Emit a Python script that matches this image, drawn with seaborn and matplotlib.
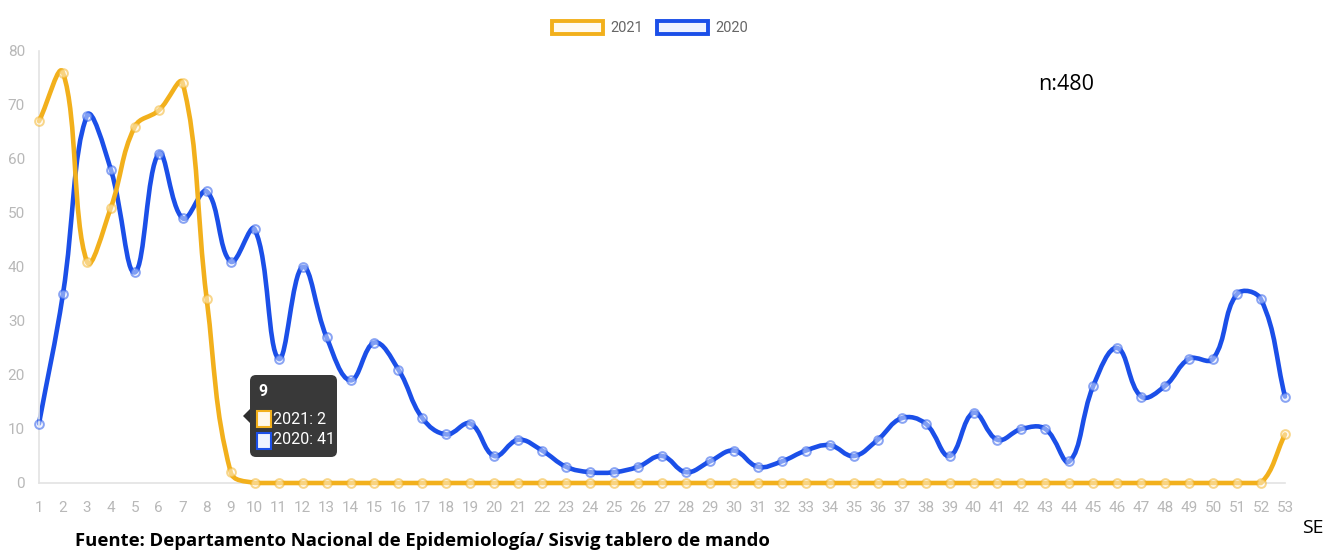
import numpy as np
import pandas as pd
import matplotlib
matplotlib.use('Agg')
import matplotlib.pyplot as plt
import seaborn as sns
from matplotlib.path import Path
from matplotlib.patches import PathPatch, FancyBboxPatch, Patch, Rectangle, Polygon
from matplotlib.transforms import IdentityTransform

# Datos (casos por semana epidemiológica)
semanas = list(range(1, 54))
casos_2021 = [67, 76, 41, 51, 66, 69, 74, 34, 2, 0,
              0, 0, 0, 0, 0, 0, 0, 0, 0, 0,
              0, 0, 0, 0, 0, 0, 0, 0, 0, 0,
              0, 0, 0, 0, 0, 0, 0, 0, 0, 0,
              0, 0, 0, 0, 0, 0, 0, 0, 0, 0,
              0, 0, 9]
casos_2020 = [11, 35, 68, 58, 39, 61, 49, 54, 41, 47,
              23, 40, 27, 19, 26, 21, 12, 9, 11, 5,
              8, 6, 3, 2, 2, 3, 5, 2, 4, 6,
              3, 4, 6, 7, 5, 8, 12, 11, 5, 13,
              8, 10, 10, 4, 18, 25, 16, 18, 23, 23,
              35, 34, 16]
y_ticks = [0, 10, 20, 30, 40, 50, 60, 70, 80]

NARANJA = '#F2B01C'
AZUL = '#1B4FE8'
GRIS = '#b8b8b8'
W, H = 1330, 552

sns.set_style('white')
plt.rcParams['font.family'] = ['Roboto', 'DejaVu Sans']

fig = plt.figure(figsize=(W / 100, H / 100), dpi=100)
ax = fig.add_axes([39 / W, (H - 483) / H, (1285 - 39) / W, 432 / H])
ax.set_xlim(1, 53)
ax.set_ylim(0, 80)


def curva_suave(ax, xs, ys, t=0.4):
    # curva tipo Chart.js (tension 0.4), calculada en pixeles
    pts = ax.transData.transform(np.column_stack([xs, ys]).astype(float))
    n = len(pts)
    cp_prev = np.zeros_like(pts)
    cp_next = np.zeros_like(pts)
    for i in range(n):
        prev = pts[i - 1] if i > 0 else pts[i]
        cur = pts[i]
        nxt = pts[i + 1] if i < n - 1 else pts[i]
        d01 = np.hypot(*(cur - prev))
        d12 = np.hypot(*(nxt - cur))
        tot = d01 + d12
        s01 = d01 / tot if tot else 0
        s12 = d12 / tot if tot else 0
        cp_prev[i] = cur - t * s01 * (nxt - prev)
        cp_next[i] = cur + t * s12 * (nxt - prev)
    y_lo = ax.transData.transform((1, 0))[1]
    y_hi = ax.transData.transform((1, 80))[1]
    cp_prev[:, 1] = np.clip(cp_prev[:, 1], y_lo, y_hi)
    cp_next[:, 1] = np.clip(cp_next[:, 1], y_lo, y_hi)
    verts = [pts[0]]
    codes = [Path.MOVETO]
    for i in range(n - 1):
        verts += [cp_next[i], cp_prev[i + 1], pts[i + 1]]
        codes += [Path.CURVE4] * 3
    verts = ax.transData.inverted().transform(np.array(verts))
    return Path(verts, codes)


series = [('2020', casos_2020, AZUL, (0.90, 0.93, 1.0, 0.5), 2),
          ('2021', casos_2021, NARANJA, (1.0, 0.97, 0.90, 0.5), 4)]
for anio, valores, color, claro, z in series:
    ax.add_patch(PathPatch(curva_suave(ax, semanas, valores), facecolor='none',
                           edgecolor=color, lw=3.3, capstyle='round',
                           joinstyle='round', clip_on=False, zorder=z))
    df = pd.DataFrame({'semana': semanas, 'casos': valores})
    sns.scatterplot(data=df, x='semana', y='casos', ax=ax, s=40, marker='o',
                    color=color, zorder=z + 1, clip_on=False, legend=False)
    coll = ax.collections[-1]
    coll.set_facecolor(claro)
    coll.set_edgecolor(matplotlib.colors.to_rgba(color, 0.5))
    coll.set_linewidth(1.4)

ax.set_xticks(semanas)
ax.set_xticklabels([str(s) for s in semanas])
ax.set_yticks(y_ticks)
ax.set_xlabel('')
ax.set_ylabel('')
ax.tick_params(axis='x', length=0, pad=13, labelsize=11, labelcolor=GRIS)
ax.tick_params(axis='y', length=0, pad=10, labelsize=11, labelcolor=GRIS)
for lado in ['top', 'right']:
    ax.spines[lado].set_visible(False)
for lado in ['left', 'bottom']:
    ax.spines[lado].set_color('#e3e3e3')
    ax.spines[lado].set_linewidth(1.2)
ax.grid(False)

# Leyenda
handles = [Patch(facecolor='#fffaf0', edgecolor=NARANJA, lw=2.8, label='2021'),
           Patch(facecolor='#eef2ff', edgecolor=AZUL, lw=2.8, label='2020')]
fig.legend(handles=handles, loc='center', bbox_to_anchor=(650 / W, 1 - 28 / H),
           ncol=2, frameon=False, fontsize=10.5, labelcolor='#666666',
           handlelength=3.5, handleheight=1.0, handletextpad=0.45,
           columnspacing=1.0)

# Tooltip
idt = IdentityTransform()
fig.patches.append(FancyBboxPatch((250, H - 457), 87, 82,
                                  boxstyle='round,pad=0,rounding_size=6',
                                  facecolor='#2e2e2e', edgecolor='none',
                                  alpha=0.95, transform=idt, figure=fig))
fig.patches.append(Polygon([(250, H - 409), (243, H - 416), (250, H - 423)],
                           closed=True, facecolor='#2e2e2e', edgecolor='none',
                           transform=idt, figure=fig))
fig.patches.append(Rectangle((257, H - 427), 14, 16, facecolor='#fff8ea',
                             edgecolor=NARANJA, lw=1.5, transform=idt, figure=fig))
fig.patches.append(Rectangle((257, H - 449), 14, 16, facecolor='#eef2ff',
                             edgecolor=AZUL, lw=1.5, transform=idt, figure=fig))
fig.text(258 / W, 1 - 391 / H, '9', color='white', fontsize=11.5,
         fontweight='bold', ha='left', va='center')
fig.text(273 / W, 1 - 419 / H, '2021: 2', color='white', fontsize=11.5,
         ha='left', va='center')
fig.text(273 / W, 1 - 440 / H, '2020: 41', color='white', fontsize=11.5,
         ha='left', va='center')

# Anotaciones
fig.text(1066 / W, 1 - 84 / H, 'n:480', fontsize=15.5, family=['Open Sans', 'DejaVu Sans'],
         ha='center', va='center', color='black')
fig.text(1313 / W, 1 - 528 / H, 'SE', fontsize=14, family=['Open Sans', 'DejaVu Sans'],
         ha='center', va='center', color='black')
fig.text(75 / W, 1 - 541 / H,
         'Fuente: Departamento Nacional de Epidemiología/ Sisvig tablero de mando',
         fontsize=13.3, fontweight='bold', family=['Open Sans', 'DejaVu Sans'],
         ha='left', va='center', color='black')

fig.savefig('out.png', dpi=100)
